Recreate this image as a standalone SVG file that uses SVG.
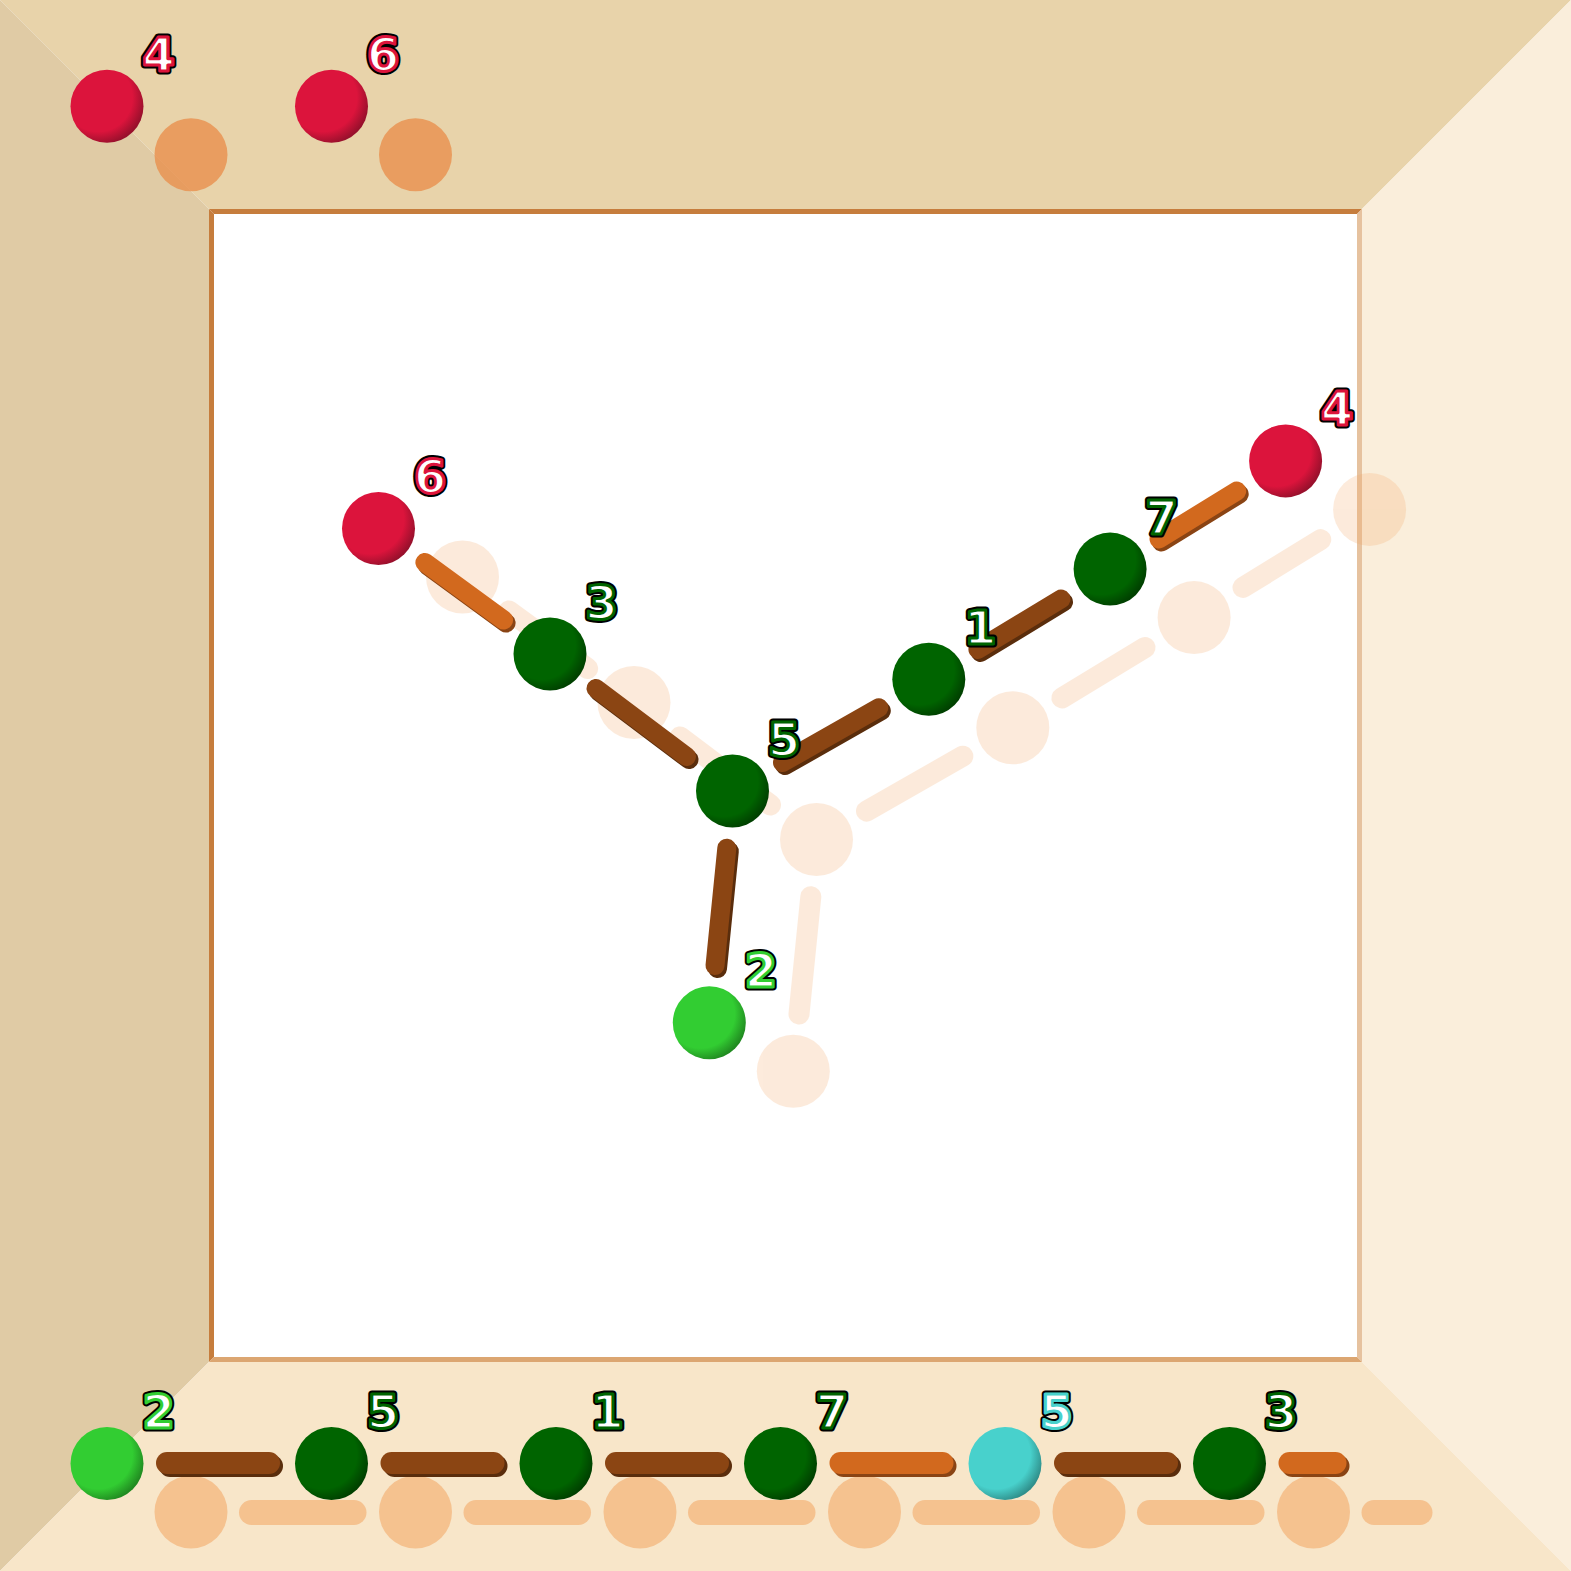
<svg xmlns="http://www.w3.org/2000/svg" width="1571" height="1571" viewBox="0 0 1571 1571">
<defs>
<radialGradient id="gRed" cx="0.38" cy="0.38" r="0.65"><stop offset="0" stop-color="#dc143c"/><stop offset="0.72" stop-color="#dc143c"/><stop offset="1" stop-color="#98102c"/></radialGradient>
<radialGradient id="gDk" cx="0.38" cy="0.38" r="0.65"><stop offset="0" stop-color="#006400"/><stop offset="0.72" stop-color="#006400"/><stop offset="1" stop-color="#004000"/></radialGradient>
<radialGradient id="gLime" cx="0.38" cy="0.38" r="0.65"><stop offset="0" stop-color="#32cd32"/><stop offset="0.72" stop-color="#32cd32"/><stop offset="1" stop-color="#218b21"/></radialGradient>
<radialGradient id="gCyan" cx="0.38" cy="0.38" r="0.65"><stop offset="0" stop-color="#48d1cc"/><stop offset="0.72" stop-color="#48d1cc"/><stop offset="1" stop-color="#30908c"/></radialGradient>
</defs>
<style>
.lbl{font-family:"DejaVu Sans",sans-serif;font-weight:bold;font-size:47px;text-anchor:middle}
.lo{fill:#000;stroke:#000;stroke-width:7;stroke-linejoin:round}
.li{fill:#fff;stroke-width:3;stroke-linejoin:round}
.bo{stroke:#d2691e;stroke-width:19;stroke-linecap:round;fill:none}
.bb{stroke:#8b4513;stroke-width:19;stroke-linecap:round;fill:none}
.bos{stroke:#8a4414;stroke-width:19;stroke-linecap:round;fill:none}
.bbs{stroke:#5a2d0c;stroke-width:19;stroke-linecap:round;fill:none}
.ps{stroke-width:21;stroke-linecap:round;fill:none}
</style>
<g id="frame">
<rect x="0" y="0" width="1571" height="1571" fill="#ffffff"/>
<polygon points="0,0 1571,0 1362,209 209,209" fill="#e8d3aa"/>
<polygon points="0,0 209,209 209,1362 0,1571" fill="#e0cba5"/>
<polygon points="1571,0 1571,1571 1362,1362 1362,209" fill="#faeedb"/>
<polygon points="0,1571 209,1362 1362,1362 1571,1571" fill="#f8e6c9"/>
<polygon points="209,209 1362,209 1357,214 214,214" fill="#c67d3d"/>
<polygon points="209,209 214,214 214,1357 209,1362" fill="#c67d3d"/>
<polygon points="1362,209 1362,1362 1357,1357 1357,214" fill="#e6c29f"/>
<polygon points="209,1362 1362,1362 1357,1357 214,1357" fill="#dca671"/>
</g>
<g id="shadows">
<g opacity="0.22" fill="#f4a460" stroke="#f4a460">
<circle cx="462.5" cy="577" r="36.5" stroke="none"/>
<circle cx="634" cy="702.5" r="36.5" stroke="none"/>
<circle cx="816.5" cy="839.5" r="36.5" stroke="none"/>
<circle cx="793.3" cy="1071.3" r="36.5" stroke="none"/>
<circle cx="1012.8" cy="727.8" r="36.5" stroke="none"/>
<circle cx="1194.1" cy="617.6" r="36.5" stroke="none"/>
<circle cx="1369.6" cy="509.4" r="36.5" stroke="none"/>
<line class="ps" x1="508.9" y1="611" x2="587.6" y2="668.5"/>
<line class="ps" x1="680" y1="737" x2="770.5" y2="805"/>
<line class="ps" x1="866.5" y1="811.1" x2="962.8" y2="756.2"/>
<line class="ps" x1="1061.9" y1="697.9" x2="1145" y2="647.5"/>
<line class="ps" x1="1243" y1="587.4" x2="1320.7" y2="539.6"/>
<line class="ps" x1="810.8" y1="896.7" x2="799" y2="1014.1"/>
</g>
<g fill="#e8904e" opacity="0.8">
<circle cx="191" cy="154.8" r="36.5"/>
<circle cx="415.5" cy="154.8" r="36.5"/>
</g>
<g fill="#f4a460" opacity="0.54">
<circle cx="191" cy="1512" r="36.5"/>
<circle cx="415.5" cy="1512" r="36.5"/>
<circle cx="640" cy="1512" r="36.5"/>
<circle cx="864.5" cy="1512" r="36.5"/>
<circle cx="1089" cy="1512" r="36.5"/>
<circle cx="1313.5" cy="1512" r="36.5"/>
<rect x="239" y="1500" width="127.5" height="25" rx="12.5"/>
<rect x="463.5" y="1500" width="127.5" height="25" rx="12.5"/>
<rect x="688" y="1500" width="127.5" height="25" rx="12.5"/>
<rect x="912.5" y="1500" width="127.5" height="25" rx="12.5"/>
<rect x="1137" y="1500" width="127.5" height="25" rx="12.5"/>
<rect x="1361.5" y="1500" width="71" height="25" rx="12.5"/>
</g>
</g>
<g id="connectors">
<line class="bos" x1="427.4" y1="565.5" x2="506.1" y2="623"/>
<line class="bo" x1="424.9" y1="562.5" x2="503.6" y2="620"/>
<line class="bbs" x1="598.5" y1="691.5" x2="689" y2="759.5"/>
<line class="bb" x1="596" y1="688.5" x2="686.5" y2="756.5"/>
<line class="bbs" x1="785" y1="765.6" x2="881.3" y2="710.7"/>
<line class="bb" x1="782.5" y1="762.6" x2="878.8" y2="707.7"/>
<line class="bbs" x1="980.4" y1="652.4" x2="1063.5" y2="602"/>
<line class="bb" x1="977.9" y1="649.4" x2="1061" y2="599"/>
<line class="bos" x1="1161.5" y1="541.9" x2="1239.2" y2="494.1"/>
<line class="bo" x1="1159" y1="538.9" x2="1236.7" y2="491.1"/>
<line class="bbs" x1="729.3" y1="851.2" x2="717.5" y2="968.6"/>
<line class="bb" x1="726.8" y1="848.2" x2="715" y2="965.6"/>
<rect x="159" y="1455" width="124" height="22" rx="11" fill="#5a2d0c"/>
<rect x="156" y="1452" width="124" height="22" rx="11" fill="#8b4513"/>
<rect x="383.5" y="1455" width="124" height="22" rx="11" fill="#5a2d0c"/>
<rect x="380.5" y="1452" width="124" height="22" rx="11" fill="#8b4513"/>
<rect x="608" y="1455" width="124" height="22" rx="11" fill="#5a2d0c"/>
<rect x="605" y="1452" width="124" height="22" rx="11" fill="#8b4513"/>
<rect x="832.5" y="1455" width="124" height="22" rx="11" fill="#8a4414"/>
<rect x="829.5" y="1452" width="124" height="22" rx="11" fill="#d2691e"/>
<rect x="1057" y="1455" width="124" height="22" rx="11" fill="#5a2d0c"/>
<rect x="1054" y="1452" width="124" height="22" rx="11" fill="#8b4513"/>
<rect x="1281.5" y="1455" width="68" height="22" rx="11" fill="#8a4414"/>
<rect x="1278.5" y="1452" width="68" height="22" rx="11" fill="#d2691e"/>
</g>
<g id="node-6"><circle cx="378.5" cy="528.5" r="36.5" fill="url(#gRed)"/><text class="lbl lo" x="430" y="493">6</text><text class="lbl li" stroke="#dc143c" x="430" y="493">6</text></g>
<g id="node-3"><circle cx="550" cy="654" r="36.5" fill="url(#gDk)"/><text class="lbl lo" x="601.5" y="618.5">3</text><text class="lbl li" stroke="#006400" x="601.5" y="618.5">3</text></g>
<g id="node-5"><circle cx="732.5" cy="791" r="36.5" fill="url(#gDk)"/><text class="lbl lo" x="784" y="755.5">5</text><text class="lbl li" stroke="#006400" x="784" y="755.5">5</text></g>
<g id="node-2"><circle cx="709.3" cy="1022.8" r="36.5" fill="url(#gLime)"/><text class="lbl lo" x="760.8" y="987.3">2</text><text class="lbl li" stroke="#32cd32" x="760.8" y="987.3">2</text></g>
<g id="node-1"><circle cx="928.8" cy="679.3" r="36.5" fill="url(#gDk)"/><text class="lbl lo" x="980.3" y="643.8">1</text><text class="lbl li" stroke="#006400" x="980.3" y="643.8">1</text></g>
<g id="node-7"><circle cx="1110.1" cy="569.1" r="36.5" fill="url(#gDk)"/><text class="lbl lo" x="1161.6" y="533.6">7</text><text class="lbl li" stroke="#006400" x="1161.6" y="533.6">7</text></g>
<g id="node-4"><circle cx="1285.6" cy="460.9" r="36.5" fill="url(#gRed)"/><text class="lbl lo" x="1337.1" y="425.4">4</text><text class="lbl li" stroke="#dc143c" x="1337.1" y="425.4">4</text></g>
<g id="legend-top-4"><circle cx="107" cy="106.3" r="36.5" fill="url(#gRed)"/><text class="lbl lo" x="158.5" y="70.8">4</text><text class="lbl li" stroke="#dc143c" x="158.5" y="70.8">4</text></g>
<g id="legend-top-6"><circle cx="331.5" cy="106.3" r="36.5" fill="url(#gRed)"/><text class="lbl lo" x="383" y="70.8">6</text><text class="lbl li" stroke="#dc143c" x="383" y="70.8">6</text></g>
<g id="legend-bot-2"><circle cx="107" cy="1463.5" r="36.5" fill="url(#gLime)"/><text class="lbl lo" x="158.5" y="1428">2</text><text class="lbl li" stroke="#32cd32" x="158.5" y="1428">2</text></g>
<g id="legend-bot-5"><circle cx="331.5" cy="1463.5" r="36.5" fill="url(#gDk)"/><text class="lbl lo" x="383" y="1428">5</text><text class="lbl li" stroke="#006400" x="383" y="1428">5</text></g>
<g id="legend-bot-1"><circle cx="556" cy="1463.5" r="36.5" fill="url(#gDk)"/><text class="lbl lo" x="607.5" y="1428">1</text><text class="lbl li" stroke="#006400" x="607.5" y="1428">1</text></g>
<g id="legend-bot-7"><circle cx="780.5" cy="1463.5" r="36.5" fill="url(#gDk)"/><text class="lbl lo" x="832" y="1428">7</text><text class="lbl li" stroke="#006400" x="832" y="1428">7</text></g>
<g id="legend-bot-5b"><circle cx="1005" cy="1463.5" r="36.5" fill="url(#gCyan)"/><text class="lbl lo" x="1056.5" y="1428">5</text><text class="lbl li" stroke="#48d1cc" x="1056.5" y="1428">5</text></g>
<g id="legend-bot-3"><circle cx="1229.5" cy="1463.5" r="36.5" fill="url(#gDk)"/><text class="lbl lo" x="1281" y="1428">3</text><text class="lbl li" stroke="#006400" x="1281" y="1428">3</text></g>
</svg>
